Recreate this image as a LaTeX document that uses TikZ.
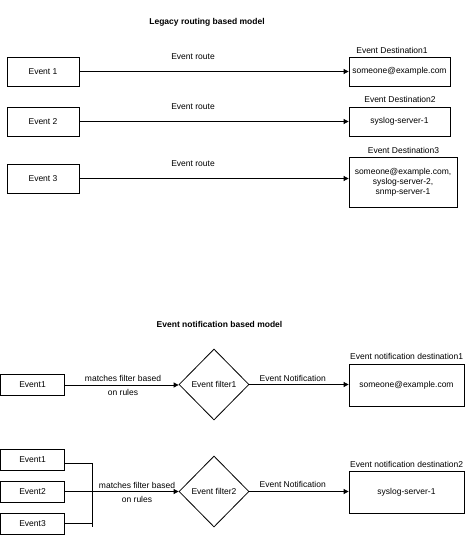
\documentclass[tikz,border=0pt]{standalone}
\usepackage{fontspec}
\setmainfont{Liberation Sans}
\usetikzlibrary{shapes.geometric,arrows.meta}
\begin{document}
\begin{tikzpicture}[x=1pt,y=-1pt,
  every node/.style={font=\fontsize{8.5}{10}\selectfont, inner sep=0pt},
  box/.style={draw, line width=0.8pt, rectangle},
  evbox/.style={box, minimum width=72pt, minimum height=29pt},
  nbox/.style={box, minimum width=64pt, minimum height=21pt},
  dbox/.style={box, minimum width=115pt, minimum height=42pt},
  filt/.style={draw, line width=0.8pt, diamond, minimum width=70pt, minimum height=71pt},
  conn/.style={line width=0.8pt, -{Triangle[length=5pt,width=5pt]}},
  wire/.style={line width=0.8pt},
  lbl/.style={align=center},
  title/.style={font=\fontsize{8.5}{10}\selectfont\bfseries}]
\useasboundingbox (0,0) rectangle (468,535);

% ---------- Legacy routing based model ----------
\node[title] (t1) at (207,22) {Legacy routing based model};

\node[evbox] (e1) at (43,71.5) {Event 1};
\node[evbox] (e2) at (43,121.5) {Event 2};
\node[evbox] (e3) at (43,178.5) {Event 3};

\node[box, minimum width=101pt, minimum height=29pt] (d1) at (399.5,71.5) {someone@example.com};
\node[box, minimum width=101pt, minimum height=29pt] (d2) at (399.5,121.5) {syslog-server-1};
\node[box, minimum width=108pt, minimum height=50pt, align=center] (d3) at (403,182) {someone@example.com,\\syslog-server-2,\\snmp-server-1};

\node (dl1) at (392,50.7) {Event Destination1};
\node (dl2) at (400,99.7) {Event Destination2};
\node (dl3) at (403.5,150) {Event Destination3};

\draw[conn] (e1) -- (d1);
\draw[conn] (e2) -- (d2);
\draw[conn] (e3.east) -- (e3.east -| d3.west);

\node (r1) at (193,57) {Event route};
\node (r2) at (193,107) {Event route};
\node (r3) at (193,164) {Event route};

% ---------- Event notification based model ----------
\node[title] (t2) at (219.5,324.3) {Event notification based model};

\node[nbox] (n1) at (32.5,385) {Event1};
\node[filt] (f1) at (214,384.5) {Event filter1};
\node[dbox] (nd1) at (406.5,385) {someone@example.com};
\node (ndl1) at (406.7,356.7) {Event notification destination1};

\draw[conn] (n1.east) -- (n1.east -| f1.west);
\draw[conn] (f1.east) -- (f1.east -| nd1.west);
\node[lbl] (m1) at (123,385.4) {matches filter based\\[4pt]on rules};
\node (en1) at (292.7,378) {Event Notification};

\node[nbox] (g1) at (32.5,459.5) {Event1};
\node[nbox] (g2) at (32.5,491.5) {Event2};
\node[nbox] (g3) at (32.5,523.5) {Event3};
\coordinate (bt) at (92,463);
\coordinate (bb) at (92,527);

\node[filt] (f2) at (214,491.5) {Event filter2};
\node[dbox] (nd2) at (406.5,492) {syslog-server-1};
\node (ndl2) at (406.7,464) {Event notification destination2};

\draw[wire] (g1.east |- bt) -- (bt) -- (bb);
\draw[wire] (g3.east) -- (g3.east -| bt);
\draw[conn] (g2.east) -- (g2.east -| f2.west);
\draw[conn] (f2.east) -- (f2.east -| nd2.west);
\node[lbl] (m2) at (137,492) {matches filter based\\[4pt]on rules};
\node (en2) at (292.7,484.3) {Event Notification};
\end{tikzpicture}
\end{document}
